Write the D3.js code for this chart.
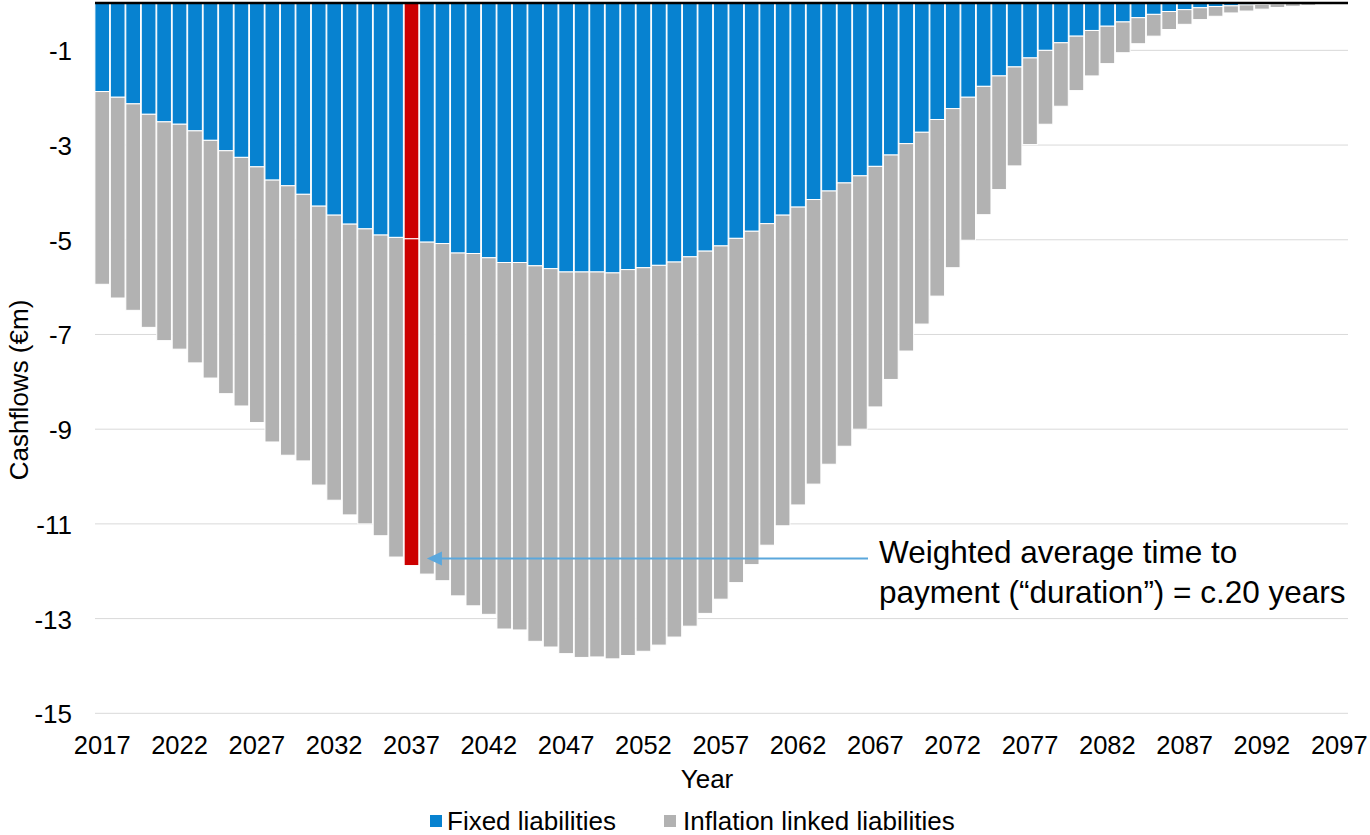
<!DOCTYPE html>
<html>
<head>
<meta charset="utf-8">
<script src="https://cdn.jsdelivr.net/npm/d3@7"></script>
<style>
  body { margin: 0; background: #fff; }
  svg { font-family: Arial, "Liberation Sans", sans-serif; }
</style>
</head>
<body>
<svg id="chart" width="1370" height="835"></svg>
<script>
// years 2017..2097
var years = d3.range(2017, 2098);

// fixed liabilities cashflows (€m)
var fixedLiab = [
  -1.87, -1.99, -2.13, -2.35, -2.51, -2.56, -2.70, -2.90, -3.12, -3.26,
  -3.46, -3.74, -3.86, -4.04, -4.29, -4.48, -4.67, -4.77, -4.90, -4.95,
  -4.98, -5.05, -5.08, -5.28, -5.29, -5.38, -5.48, -5.48, -5.55, -5.61,
  -5.68, -5.68, -5.68, -5.70, -5.63, -5.59, -5.54, -5.47, -5.36, -5.24,
  -5.13, -4.97, -4.82, -4.66, -4.48, -4.31, -4.15, -3.97, -3.80, -3.65,
  -3.45, -3.21, -2.97, -2.73, -2.46, -2.23, -1.99, -1.76, -1.54, -1.35,
  -1.16, -1.00, -0.84, -0.70, -0.58, -0.49, -0.40, -0.31, -0.24, -0.18,
  -0.14, -0.10, -0.075, -0.06, -0.04, -0.03, -0.02, -0.01, -0.01, -0.005,
  0
];

// inflation linked liabilities cashflows (€m)
var inflationLiab = [
  -4.07, -4.24, -4.36, -4.50, -4.62, -4.75, -4.90, -5.02, -5.13, -5.25,
  -5.40, -5.53, -5.69, -5.63, -5.89, -6.02, -6.14, -6.23, -6.35, -6.75,
  -6.90, -7.01, -7.12, -7.24, -7.44, -7.53, -7.74, -7.76, -7.93, -7.99,
  -8.06, -8.14, -8.13, -8.15, -8.15, -8.10, -8.02, -7.92, -7.80, -7.65,
  -7.46, -7.27, -7.04, -6.79, -6.56, -6.29, -6.01, -5.77, -5.56, -5.35,
  -5.08, -4.74, -4.38, -4.05, -3.73, -3.36, -3.02, -2.71, -2.40, -2.09,
  -1.83, -1.56, -1.34, -1.15, -0.96, -0.79, -0.65, -0.55, -0.46, -0.38,
  -0.31, -0.25, -0.205, -0.15, -0.13, -0.10, -0.075, -0.06, -0.04, -0.025,
  -0.015
];

var yTicks = [-1, -3, -5, -7, -9, -11, -13, -15];
var xTickYears = years.filter(function (d) { return (d - 2017) % 5 === 0; });

var seriesNames = ["Fixed liabilities", "Inflation linked liabilities"];
var seriesColors = ["#0782d0", "#b2b2b2"];
var durationYear = 2037;
var annotationYear = 2038;
var annotationValue = -11.73;
var annotationLines = ["Weighted average time to", "payment (\u201cduration\u201d) = c.20 years"];

var svg = d3.select("#chart");

var x = d3.scaleBand()
    .domain(years)
    .range([94.5, 1347])
    .paddingInner(0.05)
    .paddingOuter(0.025);

var y = d3.scaleLinear()
    .domain([-15, 0])
    .range([713.3, 3]);

var table = years.map(function (yr, i) {
  return { year: yr, fixed: fixedLiab[i], inflation: inflationLiab[i] };
});

var stack = d3.stack()
    .keys(["fixed", "inflation"])
    .offset(d3.stackOffsetDiverging);
var stacked = stack(table);

// gridlines
svg.append("g")
  .selectAll("line")
  .data(yTicks)
  .enter().append("line")
    .attr("x1", 95)
    .attr("x2", 1348)
    .attr("y1", d => y(d))
    .attr("y2", d => y(d))
    .attr("stroke", "#d9d9d9")
    .attr("stroke-width", 1);

// bars
svg.append("g")
  .selectAll("g")
  .data(stacked)
  .enter().append("g")
    .attr("fill", (d, i) => seriesColors[i])
  .selectAll("rect")
  .data(d => d)
  .enter().append("rect")
    .attr("x", d => x(d.data.year))
    .attr("y", d => y(d[1]))
    .attr("width", x.bandwidth())
    .attr("height", d => Math.max(0, y(d[0]) - y(d[1])))
    .attr("fill", d => d.data.year === durationYear ? "#cc0000" : null)
    .attr("stroke", "#fff")
    .attr("stroke-width", 1);

// zero axis line
svg.append("line")
    .attr("x1", 95)
    .attr("x2", 1348)
    .attr("y1", y(0))
    .attr("y2", y(0))
    .attr("stroke", "#000")
    .attr("stroke-width", 2.5);

// y tick labels
svg.append("g")
  .selectAll("text")
  .data(yTicks)
  .enter().append("text")
    .attr("x", 72)
    .attr("y", d => y(d) + 10)
    .attr("text-anchor", "end")
    .attr("font-size", 26)
    .attr("fill", "#000")
    .text(d => "-" + Math.abs(d));

// x tick labels
svg.append("g")
  .selectAll("text")
  .data(xTickYears)
  .enter().append("text")
    .attr("x", d => x(d) + x.bandwidth() / 2)
    .attr("y", 754)
    .attr("text-anchor", "middle")
    .attr("font-size", 25.5)
    .attr("fill", "#000")
    .text(d => d);

// axis titles
svg.append("text")
    .attr("x", 707)
    .attr("y", 788)
    .attr("text-anchor", "middle")
    .attr("font-size", 26)
    .text("Year");

svg.append("text")
    .attr("transform", "translate(28,390) rotate(-90)")
    .attr("text-anchor", "middle")
    .attr("font-size", 26)
    .text("Cashflows (\u20acm)");

// annotation arrow
var tipX = x(annotationYear) + x.bandwidth() / 2;
var tipY = y(annotationValue);
svg.append("line")
    .attr("x1", tipX + 10)
    .attr("x2", 868)
    .attr("y1", tipY)
    .attr("y2", tipY)
    .attr("stroke", "#5ba7dc")
    .attr("stroke-width", 2);
svg.append("path")
    .attr("d", "M" + tipX + "," + tipY + "L" + (tipX + 15) + "," + (tipY - 7) + "L" + (tipX + 15) + "," + (tipY + 7) + "Z")
    .attr("fill", "#5ba7dc");

svg.append("g")
  .selectAll("text")
  .data(annotationLines)
  .enter().append("text")
    .attr("x", 879)
    .attr("y", (d, i) => 563 + i * 40)
    .attr("font-size", 31.5)
    .attr("fill", "#000")
    .text(d => d);

// legend
var legendX = [430, 664];
var legend = svg.append("g")
  .selectAll("g")
  .data(seriesNames)
  .enter().append("g")
    .attr("transform", (d, i) => "translate(" + legendX[i] + ",0)");
legend.append("rect")
    .attr("x", 0)
    .attr("y", 815)
    .attr("width", 12)
    .attr("height", 12)
    .attr("fill", (d, i) => seriesColors[i]);
legend.append("text")
    .attr("x", (d, i) => i === 0 ? 17 : 19)
    .attr("y", 830)
    .attr("font-size", 26)
    .text(d => d);
</script>
</body>
</html>
